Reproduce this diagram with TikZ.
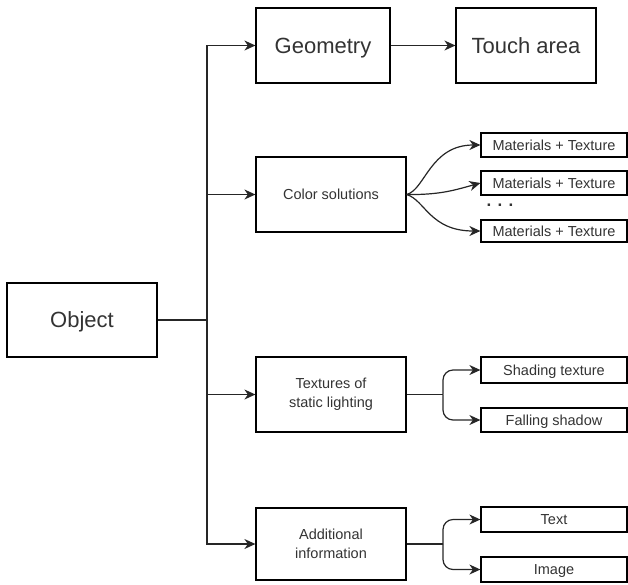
\documentclass[tikz,border=0pt]{standalone}
\usepackage{fontspec}
\setmainfont{Liberation Sans}
\usetikzlibrary{arrows.meta}
\begin{document}
\begin{tikzpicture}[x=1pt,y=-1pt,
  box/.style={draw, line width=1.2pt, rectangle, inner sep=0pt, align=center, text=black!80},
  bigbox/.style={box, text height=18pt, text depth=2.3pt, font=\fontsize{22}{26}\selectfont},
  midbox/.style={box, minimum width=150pt, minimum height=75pt, font=\fontsize{14.5}{19}\selectfont},
  smallbox/.style={box, minimum width=146pt, text height=12pt, text depth=1.6pt, minimum height=24pt, font=\fontsize{14.5}{17}\selectfont},
  conn/.style={line width=1.2pt, draw=black!85},
  arr/.style={conn, -{Stealth[length=11pt,width=10pt,inset=3.5pt]}}]
\useasboundingbox (0,0) rectangle (628,584);
\node[bigbox, minimum width=150pt, minimum height=74pt] (obj) at (82,320) {Object};
\node[bigbox, minimum width=134pt, minimum height=75pt] (geo) at (323,45.5) {Geometry};
\node[bigbox, minimum width=140pt, minimum height=75pt] (touch) at (526,45.5) {Touch area};
\node[midbox] (color) at (331,194.5) {Color solutions};
\node[midbox] (tex) at (331,394.5) {Textures of\\static lighting};
\node[midbox, minimum height=72pt] (add) at (331,544) {Additional\\information};
\node[smallbox] (m1) at (554,145) {Materials + Texture};
\node[smallbox] (m2) at (554,183) {Materials + Texture};
\node[smallbox, minimum height=22pt] (m3) at (554,231) {Materials + Texture};
\node[font=\fontsize{17}{18}\selectfont\bfseries, text=black!80] (dots) at (500,205) {. . .};
\node[smallbox, minimum height=26pt] (sh) at (554,370) {Shading texture};
\node[smallbox] (fs) at (554,420) {Falling shadow};
\node[smallbox, minimum height=25pt] (txt) at (554,519.5) {Text};
\node[smallbox, minimum height=25pt] (img) at (554,569.5) {Image};
\coordinate (tr) at (207,320);
\draw[conn] (obj.east) -- (tr);
\draw[arr] (tr) |- (geo.west);
\draw[arr] (tr) |- (color.west);
\draw[arr] (tr) |- (tex.west);
\draw[arr] (tr) |- (add.west);
\draw[arr] (geo) -- (touch);
\draw[arr] (color.east) .. controls (425,190) and (430,145) .. (m1.west);
\draw[arr] (color.east) .. controls (440,195) and (455,190) .. (m2.west);
\draw[arr] (color.east) .. controls (425,200) and (430,231) .. (m3.west);
\coordinate (tj) at (443,394.5);
\coordinate (aj) at (443,544);
\draw[conn] (tex.east) -- (tj);
\draw[arr, rounded corners=10pt] (tj) |- (sh.west);
\draw[arr, rounded corners=10pt] (tj) |- (fs.west);
\draw[conn] (add.east) -- (aj);
\draw[arr, rounded corners=10pt] (aj) |- (txt.west);
\draw[arr, rounded corners=10pt] (aj) |- (img.west);
\end{tikzpicture}
\end{document}
